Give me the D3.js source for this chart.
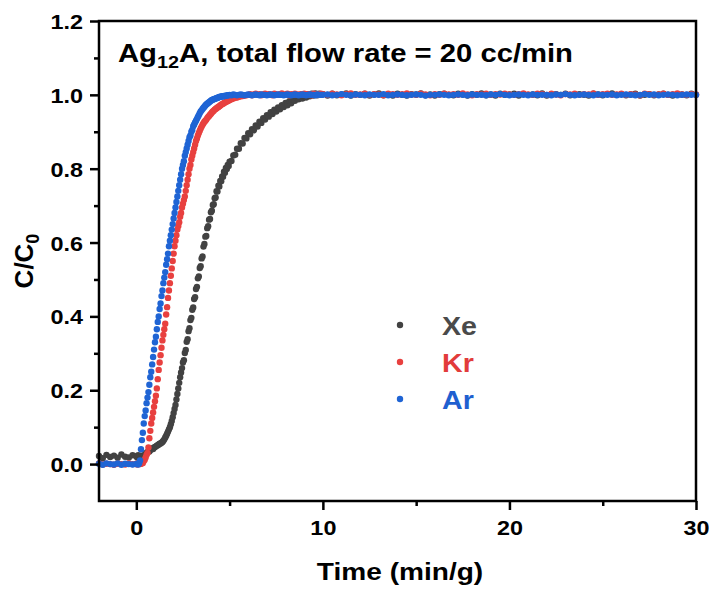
<!DOCTYPE html>
<html>
<head>
<meta charset="utf-8">
<script src="https://cdn.jsdelivr.net/npm/d3@7/dist/d3.min.js"></script>
<style>
body { margin: 0; background: #fff; }
text { font-family: Arial, "Liberation Sans", sans-serif; font-weight: bold; }
</style>
</head>
<body>
<div id="chart"></div>
<script>
// sampling times (min/g)
var timeMin = [
    -2.0, -1.8, -1.6, -1.4, -1.2, -1.0, -0.8, -0.6, -0.4, -0.2,
    0.00, 0.05, 0.10, 0.15, 0.20, 0.25, 0.30, 0.35, 0.40, 0.45,
    0.50, 0.55, 0.60, 0.65, 0.70, 0.75, 0.80, 0.85, 0.90, 0.95,
    1.00, 1.05, 1.10, 1.15, 1.20, 1.25, 1.30, 1.35, 1.40, 1.45,
    1.50, 1.55, 1.60, 1.65, 1.70, 1.75, 1.80, 1.85, 1.90, 1.95,
    2.00, 2.05, 2.10, 2.15, 2.20, 2.25, 2.30, 2.35, 2.40, 2.45,
    2.50, 2.55, 2.60, 2.65, 2.70, 2.75, 2.80, 2.85, 2.90, 2.95,
    3.00, 3.05, 3.10, 3.15, 3.20, 3.25, 3.30, 3.35, 3.40, 3.45,
    3.50, 3.55, 3.60, 3.65, 3.70, 3.75, 3.80, 3.85, 3.90, 3.95,
    4.00, 4.05, 4.10, 4.15, 4.20, 4.25, 4.30, 4.35, 4.40, 4.45,
    4.50, 4.55, 4.60, 4.65, 4.70, 4.75, 4.80, 4.85, 4.90, 4.95,
    5.0, 5.1, 5.2, 5.3, 5.4, 5.5, 5.6, 5.7, 5.8, 5.9,
    6.0, 6.1, 6.2, 6.3, 6.4, 6.5, 6.6, 6.7, 6.8, 6.9,
    7.0, 7.1, 7.2, 7.3, 7.4, 7.5, 7.6, 7.7, 7.8, 7.9,
    8.0, 8.1, 8.2, 8.3, 8.4, 8.5, 8.6, 8.7, 8.8, 8.9,
    9.0, 9.1, 9.2, 9.3, 9.4, 9.5, 9.6, 9.7, 9.8, 9.9,
    10, 10.25, 10.5, 10.75, 11, 11.25, 11.5, 11.75,
    12, 12.25, 12.5, 12.75, 13, 13.25, 13.5, 13.75,
    14, 14.25, 14.5, 14.75, 15, 15.25, 15.5, 15.75,
    16, 16.25, 16.5, 16.75, 17, 17.25, 17.5, 17.75,
    18, 18.25, 18.5, 18.75, 19, 19.25, 19.5, 19.75,
    20, 20.25, 20.5, 20.75, 21, 21.25, 21.5, 21.75,
    22, 22.25, 22.5, 22.75, 23, 23.25, 23.5, 23.75,
    24, 24.25, 24.5, 24.75, 25, 25.25, 25.5, 25.75,
    26, 26.25, 26.5, 26.75, 27, 27.25, 27.5, 27.75,
    28, 28.25, 28.5, 28.75, 29, 29.25, 29.5, 29.75,
    30
];

// C/C0 for Xe
var xeValues = [
    0.022, 0.016, 0.025, 0.019, 0.023, 0.017, 0.026, 0.020, 0.018, 0.024,
    0.021, 0.018, 0.024, 0.019, 0.022, 0.020, 0.023, 0.022, 0.020, 0.025,
    0.028, 0.030, 0.032, 0.035, 0.034, 0.038, 0.040, 0.042, 0.041, 0.045,
    0.046, 0.048, 0.050, 0.051, 0.053, 0.055, 0.056, 0.058, 0.060, 0.063,
    0.067, 0.072, 0.077, 0.082, 0.088, 0.094, 0.100, 0.108, 0.117, 0.127,
    0.138, 0.149, 0.160, 0.175, 0.190, 0.205, 0.220, 0.235, 0.248, 0.260,
    0.275, 0.281, 0.301, 0.309, 0.331, 0.338, 0.360, 0.368, 0.390, 0.396,
    0.418, 0.424, 0.447, 0.452, 0.474, 0.480, 0.503, 0.508, 0.531, 0.536,
    0.557, 0.562, 0.589, 0.596, 0.616, 0.618, 0.639, 0.644, 0.662, 0.664,
    0.682, 0.686, 0.702, 0.704, 0.720, 0.722, 0.739, 0.738, 0.754, 0.752,
    0.767, 0.766, 0.779, 0.778, 0.792, 0.789, 0.802, 0.799, 0.810, 0.807,
    0.819, 0.821, 0.836, 0.838, 0.854, 0.854, 0.869, 0.868, 0.883, 0.882,
    0.896, 0.893, 0.907, 0.904, 0.917, 0.914, 0.927, 0.924, 0.937, 0.933,
    0.945, 0.941, 0.953, 0.948, 0.960, 0.955, 0.966, 0.961, 0.972, 0.967,
    0.978, 0.972, 0.983, 0.977, 0.987, 0.984, 0.992, 0.988, 0.996, 0.990,
    0.999, 0.993, 1.002, 0.996, 1.003, 0.998, 1.004, 0.999, 1.003, 1.000,
    1.002, 0.998, 1.003, 0.999, 1.001, 1.004, 0.998, 1.002,
    1.000, 1.003, 0.998, 1.001, 1.004, 0.999, 1.002, 0.998,
    1.003, 1.000, 0.998, 1.002, 1.001, 1.004, 0.999, 1.001,
    0.998, 1.002, 1.003, 1.000, 0.999, 1.003, 1.001, 0.998,
    1.002, 1.000, 1.004, 0.999, 1.001, 0.998, 1.003, 1.000,
    1.001, 1.003, 0.998, 1.002, 1.000, 1.001, 0.999, 1.004,
    0.998, 1.001, 1.002, 1.000, 1.003, 0.999, 1.001, 1.002,
    1.000, 0.998, 1.003, 1.001, 0.999, 1.002, 1.004, 1.000,
    1.002, 0.999, 1.001, 1.003, 0.998, 1.000, 1.002, 0.999,
    1.001, 1.003, 1.000, 0.998, 1.002, 1.001, 0.999, 1.003,
    1.000
];

// C/C0 for Kr
var krValues = [
    0.002, -0.001, 0.001, 0.000, -0.002, 0.001, 0.000, -0.001, 0.002, 0.000,
    0.001, -0.001, 0.000, 0.002, 0.000, 0.001, 0.002, 0.003, 0.008, 0.012,
    0.018, 0.025, 0.030, 0.045, 0.070, 0.090, 0.110, 0.125, 0.140, 0.155,
    0.170, 0.185, 0.205, 0.230, 0.255, 0.275, 0.295, 0.315, 0.335, 0.350,
    0.365, 0.380, 0.405, 0.425, 0.450, 0.470, 0.490, 0.510, 0.530, 0.550,
    0.570, 0.590, 0.605, 0.620, 0.635, 0.645, 0.655, 0.670, 0.680, 0.695,
    0.705, 0.715, 0.725, 0.740, 0.755, 0.770, 0.785, 0.800, 0.810, 0.825,
    0.835, 0.845, 0.855, 0.865, 0.875, 0.882, 0.890, 0.897, 0.903, 0.909,
    0.914, 0.919, 0.923, 0.927, 0.930, 0.933, 0.937, 0.940, 0.943, 0.946,
    0.949, 0.952, 0.955, 0.957, 0.960, 0.962, 0.964, 0.966, 0.967, 0.969,
    0.971, 0.973, 0.975, 0.976, 0.978, 0.979, 0.981, 0.982, 0.983, 0.985,
    0.986, 0.988, 0.990, 0.992, 0.993, 0.995, 0.996, 0.997, 0.998, 0.999,
    1.000, 1.002, 0.999, 1.001, 1.003, 1.000, 1.002, 0.999, 1.001, 1.003,
    1.000, 1.002, 1.001, 0.999, 1.003, 1.001, 1.000, 1.002, 1.004, 1.000,
    1.001, 1.003, 0.999, 1.002, 1.000, 1.003, 1.001, 1.000, 1.002, 1.001,
    1.003, 1.000, 1.002, 1.001, 0.999, 1.003, 1.002, 1.000, 1.001, 1.003,
    1.002, 1.000, 1.003, 1.001, 0.999, 1.002, 1.004, 1.000,
    1.001, 1.003, 1.000, 1.002, 1.001, 0.999, 1.003, 1.002,
    1.000, 1.002, 1.004, 1.001, 1.000, 1.003, 1.001, 0.999,
    1.002, 1.000, 1.003, 1.001, 1.002, 1.000, 1.004, 1.001,
    0.999, 1.002, 1.001, 1.003, 1.000, 1.002, 1.001, 1.003,
    1.001, 1.000, 1.002, 1.004, 1.001, 1.000, 1.003, 1.002,
    1.000, 1.003, 1.001, 0.999, 1.002, 1.001, 1.003, 1.000,
    1.002, 1.001, 1.004, 1.000, 1.002, 1.003, 1.000, 1.001,
    1.003, 1.000, 1.002, 1.001, 0.999, 1.003, 1.002, 1.000,
    1.001, 1.003, 1.000, 1.002, 1.004, 1.001, 1.000, 1.002,
    1.001
];

// C/C0 for Ar
var arValues = [
    0.001, -0.002, 0.002, 0.000, -0.001, 0.002, -0.002, 0.001, 0.000, -0.001,
    0.000, 0.001, -0.001, 0.002, 0.010, 0.040, 0.065, 0.085, 0.110, 0.130,
    0.145, 0.165, 0.180, 0.195, 0.215, 0.235, 0.250, 0.270, 0.290, 0.310,
    0.330, 0.345, 0.365, 0.385, 0.400, 0.420, 0.435, 0.455, 0.470, 0.490,
    0.505, 0.520, 0.540, 0.555, 0.570, 0.590, 0.605, 0.620, 0.635, 0.650,
    0.665, 0.680, 0.695, 0.710, 0.725, 0.740, 0.755, 0.770, 0.785, 0.800,
    0.810, 0.820, 0.835, 0.845, 0.855, 0.865, 0.875, 0.885, 0.890, 0.900,
    0.905, 0.915, 0.920, 0.925, 0.930, 0.935, 0.940, 0.945, 0.950, 0.955,
    0.958, 0.962, 0.965, 0.968, 0.971, 0.974, 0.976, 0.978, 0.980, 0.982,
    0.984, 0.986, 0.987, 0.988, 0.989, 0.990, 0.991, 0.992, 0.993, 0.994,
    0.995, 0.995, 0.996, 0.996, 0.997, 0.997, 0.998, 0.998, 0.999, 0.999,
    1.000, 0.999, 1.001, 1.000, 0.999, 1.000, 1.001, 1.000, 0.999, 1.000,
    1.001, 1.000, 0.999, 1.000, 1.001, 1.000, 0.999, 1.001, 1.000, 1.000,
    0.999, 1.000, 1.001, 1.000, 0.999, 1.000, 1.001, 1.000, 1.000, 0.999,
    1.000, 1.001, 1.000, 0.999, 1.000, 1.001, 1.000, 0.999, 1.000, 1.001,
    1.000, 0.999, 1.000, 1.001, 1.000, 1.000, 0.999, 1.001, 1.000, 1.000,
    1.000, 1.001, 0.999, 1.000, 1.002, 1.000, 0.999, 1.001,
    1.000, 0.999, 1.001, 1.000, 1.000, 1.002, 0.999, 1.000,
    1.001, 1.000, 0.999, 1.000, 1.001, 1.000, 0.998, 1.000,
    1.000, 1.001, 1.000, 0.999, 1.000, 1.001, 1.000, 0.999,
    1.001, 1.000, 1.000, 0.999, 1.001, 1.000, 1.002, 1.000,
    0.999, 1.000, 1.001, 1.000, 0.999, 1.001, 1.000, 1.000,
    1.000, 0.999, 1.001, 1.000, 1.002, 1.000, 0.999, 1.000,
    1.001, 1.000, 0.999, 1.001, 1.000, 1.000, 1.001, 0.999,
    1.000, 1.001, 1.000, 0.999, 1.000, 1.002, 1.000, 1.001,
    0.999, 1.000, 1.001, 1.000, 0.999, 1.000, 1.001, 1.000,
    1.000
];

var seriesNames = ["Xe", "Kr", "Ar"];
var xTicks = [0, 10, 20, 30];
var xMinorTicks = [5, 15, 25];
var yTicks = [0, 0.2, 0.4, 0.6, 0.8, 1.0, 1.2];
var yMinorTicks = [0.1, 0.3, 0.5, 0.7, 0.9, 1.1];

var w = 715,
    h = 594,
    margin = { top: 21, left: 99, right: 19, bottom: 93 },
    colors = { Xe: "#424242", Kr: "#e8403f", Ar: "#1f64d4" },
    textColors = { Xe: "#4a4a4a", Kr: "#e23b3b", Ar: "#1f60d0" },
    stretch = 1.17;

var x = d3.scaleLinear().domain([-2, 30]).range([margin.left, w - margin.right]);
var y = d3.scaleLinear().domain([-0.1, 1.2]).range([h - margin.bottom, margin.top]);

var svg = d3.select("#chart")
    .append("svg")
    .attr("width", w)
    .attr("height", h)
    .style("background", "#fff");

// data points, Ar drawn last so it sits on top
var values = { Xe: xeValues, Kr: krValues, Ar: arValues };
seriesNames.forEach(function(name) {
    var pts = timeMin.map(function(t, i) { return { t: t, v: values[name][i] }; });
    svg.append("g")
        .selectAll("circle")
        .data(pts)
        .enter().append("circle")
        .attr("cx", function(d) { return x(d.t); })
        .attr("cy", function(d) { return y(d.v); })
        .attr("r", 3.2)
        .attr("fill", colors[name]);
});

// axes
function styleAxis(g) {
    g.select(".domain").remove();
    g.selectAll("line").attr("stroke", "#000").attr("stroke-width", 2.5);
}

var xAxisG = svg.append("g")
    .attr("transform", "translate(0," + (h - margin.bottom) + ")")
    .call(d3.axisBottom(x).tickValues(xTicks).tickSize(9).tickFormat(d3.format("d")))
    .call(styleAxis);
xAxisG.selectAll("text")
    .attr("y", null).attr("dy", null)
    .attr("fill", "#000")
    .style("font-size", "20px")
    .attr("transform", "translate(0,34) scale(" + stretch + ",1)");

svg.append("g")
    .attr("transform", "translate(0," + (h - margin.bottom) + ")")
    .call(d3.axisBottom(x).tickValues(xMinorTicks).tickSize(5).tickFormat(""))
    .call(styleAxis);

var yAxisG = svg.append("g")
    .attr("transform", "translate(" + margin.left + ",0)")
    .call(d3.axisLeft(y).tickValues(yTicks).tickSize(9).tickFormat(d3.format(".1f")))
    .call(styleAxis);
yAxisG.selectAll("text")
    .attr("x", null).attr("dy", null)
    .attr("fill", "#000")
    .style("font-size", "20px")
    .attr("text-anchor", "end")
    .attr("transform", "translate(-16,7.5) scale(" + stretch + ",1)");

svg.append("g")
    .attr("transform", "translate(" + margin.left + ",0)")
    .call(d3.axisLeft(y).tickValues(yMinorTicks).tickSize(5).tickFormat(""))
    .call(styleAxis);

// frame
svg.append("rect")
    .attr("x", margin.left)
    .attr("y", margin.top)
    .attr("width", w - margin.left - margin.right)
    .attr("height", h - margin.top - margin.bottom)
    .attr("fill", "none")
    .attr("stroke", "#000")
    .attr("stroke-width", 2.5);

// title inside the plot
var title = svg.append("text")
    .attr("transform", "translate(118,62) scale(" + stretch + ",1)")
    .style("font-size", "25px")
    .attr("fill", "#000");
title.append("tspan").text("Ag");
title.append("tspan").attr("dy", 6).style("font-size", "17px").text("12");
title.append("tspan").attr("dy", -6).text("A, total flow rate = 20 cc/min");

// axis titles
svg.append("text")
    .attr("transform", "translate(400,580) scale(" + stretch + ",1)")
    .attr("text-anchor", "middle")
    .style("font-size", "24px")
    .text("Time (min/g)");

var yTitle = svg.append("text")
    .attr("transform", "translate(33,261) rotate(-90)")
    .attr("text-anchor", "middle")
    .style("font-size", "26px");
yTitle.append("tspan").text("C/C");
yTitle.append("tspan").attr("dy", 6).style("font-size", "18px").text("0");

// legend
var legend = svg.append("g")
    .selectAll("g")
    .data(seriesNames)
    .enter().append("g")
    .attr("transform", function(d, i) { return "translate(400," + (325 + i * 37) + ")"; });
legend.append("circle")
    .attr("r", 3.2)
    .attr("fill", function(d) { return colors[d]; });
legend.append("text")
    .attr("transform", "translate(42,10) scale(1.1,1)")
    .style("font-size", "26px")
    .attr("fill", function(d) { return textColors[d]; })
    .text(function(d) { return d; });
</script>
</body>
</html>
